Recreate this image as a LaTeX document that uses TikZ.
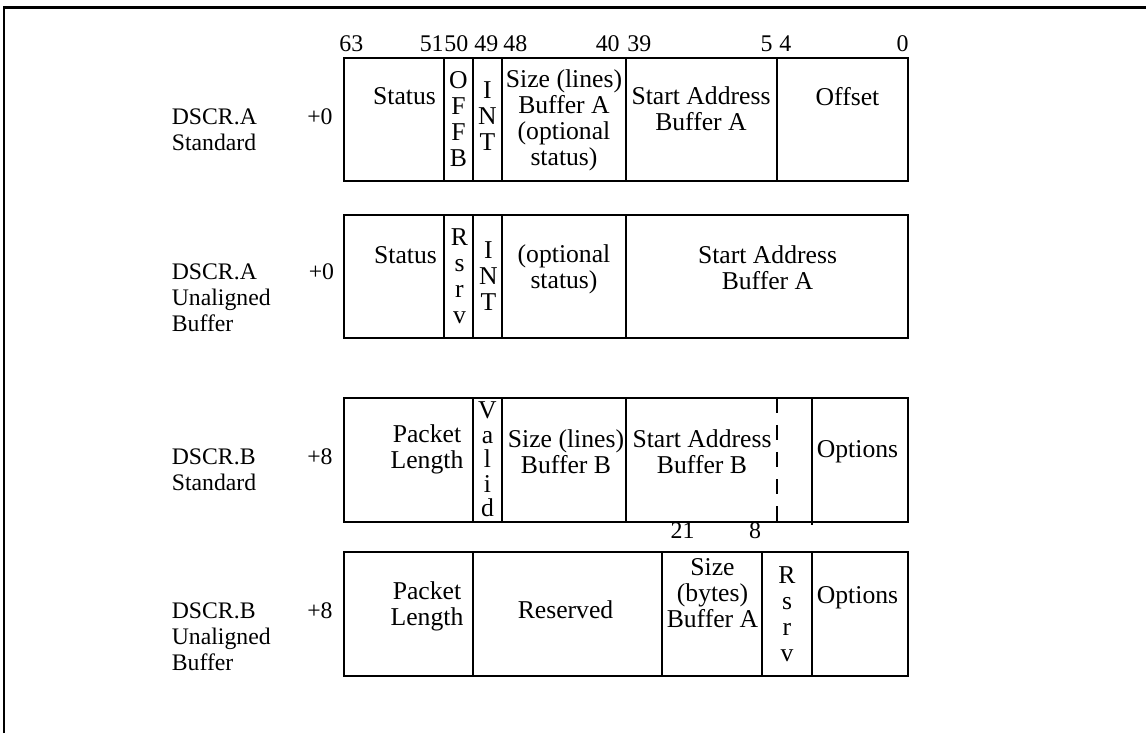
\documentclass[tikz,border=0pt]{standalone}
\usepackage{fontspec}
\setmainfont{Liberation Serif}

\begin{document}
\begin{tikzpicture}[
  field/.style={align=center, inner sep=0pt, font=\fontsize{14.6}{14.8}\selectfont},
  bitno/.style={inner sep=0pt, font=\fontsize{13.6}{14.8}\selectfont},
  desc/.style={anchor=north west, align=left, inner sep=0pt, font=\fontsize{13.5}{14.8}\selectfont},
  box/.style={line width=1.1pt},
  frame/.style={line width=1.7pt}]
\useasboundingbox (0,0) rectangle (22.92,14.66);
% frame
\coordinate (F0) at (0.08,0);
\coordinate (F1) at (0.08,14.5);
\coordinate (F2) at (22.92,14.5);
\draw[frame] (F0)--(F1)--(F2);
% DSCR.A standard
\coordinate (A1) at (6.88,13.5);
\coordinate (A2) at (18.16,11.04);
\draw[box] (A1) rectangle (A2);
\draw[box] (8.88,13.5)--(8.88,11.04);
\draw[box] (9.46,13.5)--(9.46,11.04);
\draw[box] (10.04,13.5)--(10.04,11.04);
\draw[box] (12.52,13.5)--(12.52,11.04);
\draw[box] (15.54,13.5)--(15.54,11.04);
\node[bitno,anchor=base west] (b63) at (6.78,13.63) {63};
\node[bitno,anchor=base east] (b51) at (8.88,13.63) {51};
\node[bitno,anchor=base west] (b50) at (8.88,13.63) {50};
\node[bitno,anchor=base west] (b49) at (9.48,13.63) {49};
\node[bitno,anchor=base west] (b48) at (10.06,13.63) {48};
\node[bitno,anchor=base east] (b40) at (12.4,13.63) {40};
\node[bitno,anchor=base west] (b39) at (12.54,13.63) {39};
\node[bitno,anchor=base east] (b5) at (15.46,13.63) {5};
\node[bitno,anchor=base west] (b4) at (15.58,13.63) {4};
\node[bitno,anchor=base east] (b0) at (18.18,13.63) {0};
\node[field] (sta1) at (8.09,12.74) {Status};
\node[field] (off1) at (9.17,12.27) {O\\F\\F\\B};
\node[field] (int1) at (9.75,12.33) {I\\N\\T};
\node[field] (siz1) at (11.28,12.25) {Size (lines)\\Buffer A\\(optional\\status)};
\node[field] (adr1) at (14.02,12.48) {Start Address\\Buffer A};
\node[field] (ofs1) at (16.95,12.73) {Offset};
\node[desc] (d1) at (3.43,12.5) {DSCR.A\\Standard};
\node[desc] (o1) at (6.14,12.5) {+0};
% DSCR.A unaligned
\coordinate (B1) at (6.88,10.36);
\coordinate (B2) at (18.16,7.9);
\draw[box] (B1) rectangle (B2);
\draw[box] (8.88,10.36)--(8.88,7.9);
\draw[box] (9.46,10.36)--(9.46,7.9);
\draw[box] (10.04,10.36)--(10.04,7.9);
\draw[box] (12.52,10.36)--(12.52,7.9);
\node[field] (sta2) at (8.11,9.56) {Status};
\node[field] (rsv2) at (9.19,9.13) {R\\s\\r\\v};
\node[field] (int2) at (9.77,9.13) {I\\N\\T};
\node[field] (opt2) at (11.28,9.28) {(optional\\status)};
\node[field] (adr2) at (15.35,9.3) {Start Address\\Buffer A};
\node[desc] (d2) at (3.43,9.4) {DSCR.A\\Unaligned\\Buffer};
\node[desc] (o2) at (6.17,9.4) {+0};
% DSCR.B standard
\coordinate (C1) at (6.88,6.7);
\coordinate (C2) at (18.16,4.22);
\draw[box] (C1) rectangle (C2);
\draw[box] (9.46,6.7)--(9.46,4.22);
\draw[box] (10.04,6.7)--(10.04,4.22);
\draw[box] (12.52,6.7)--(12.52,4.22);
\draw[box,dash pattern=on 0.3cm off 0.24cm] (15.54,6.7)--(15.54,4.16);
\draw[box] (16.24,6.7)--(16.24,4.16);
\node[field] (pkt3) at (8.54,5.67) {Packet\\Length};
\node[field,font=\fontsize{14.6}{14}\selectfont] (val3) at (9.75,5.47) {V\\a\\l\\i\\d};
\node[field] (siz3) at (11.32,5.63) {Size (lines)\\Buffer B};
\node[field] (adr3) at (14.04,5.63) {Start Address\\Buffer B};
\node[field] (opt3) at (17.15,5.62) {Options};
\node[desc] (d3) at (3.43,5.7) {DSCR.B\\Standard};
\node[desc] (o3) at (6.14,5.7) {+8};
% DSCR.B unaligned
\coordinate (D1) at (6.88,3.62);
\coordinate (D2) at (18.16,1.14);
\draw[box] (D1) rectangle (D2);
\draw[box] (9.46,3.62)--(9.46,1.14);
\draw[box] (13.24,3.62)--(13.24,1.14);
\draw[box] (15.24,3.62)--(15.24,1.14);
\draw[box] (16.24,3.62)--(16.24,1.14);
\node[bitno,anchor=base] (b21) at (13.65,3.9) {21};
\node[bitno,anchor=base] (b8) at (15.1,3.9) {8};
\node[field] (pkt4) at (8.54,2.54) {Packet\\Length};
\node[field] (res4) at (11.31,2.46) {Reserved};
\node[field] (siz4) at (14.25,2.8) {Size\\(bytes)\\Buffer A};
\node[field] (rsv4) at (15.74,2.37) {R\\s\\r\\v};
\node[field] (opt4) at (17.15,2.7) {Options};
\node[desc] (d4) at (3.43,2.62) {DSCR.B\\Unaligned\\Buffer};
\node[desc] (o4) at (6.14,2.62) {+8};
\end{tikzpicture}
\end{document}
